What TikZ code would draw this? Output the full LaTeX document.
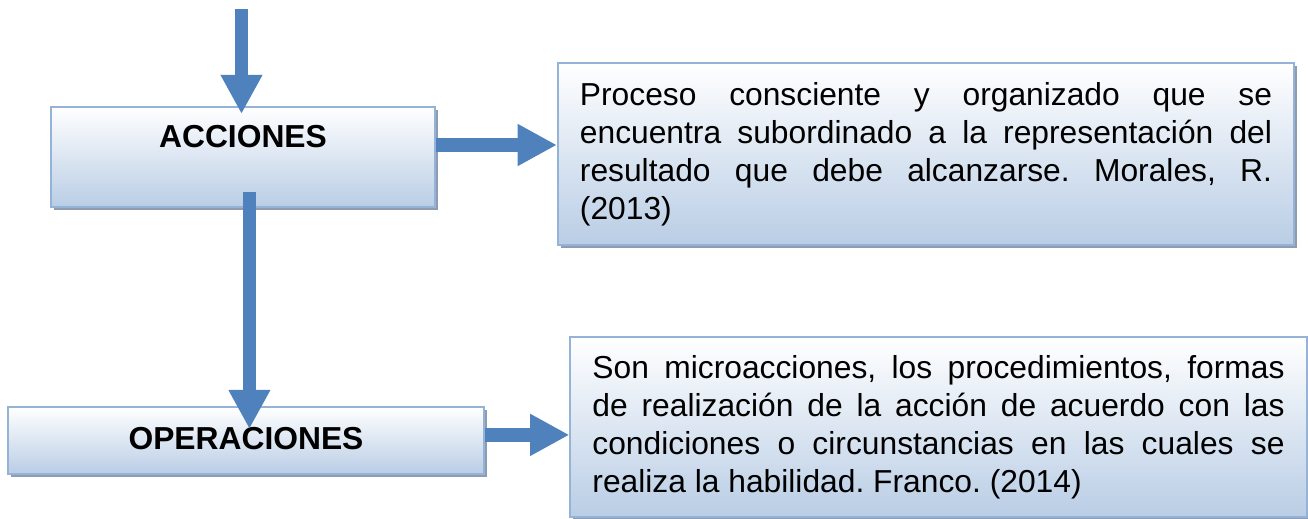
\documentclass[tikz,border=0pt]{standalone}
\usepackage{fontspec}
\setmainfont{Liberation Sans}
\usetikzlibrary{arrows.meta, shadows, calc}
\definecolor{flechaazul}{HTML}{4F81BD}
\definecolor{bordeazul}{HTML}{95B3D7}
\definecolor{fondoazul}{HTML}{B9CDE5}
\definecolor{sombra}{HTML}{8E9BB0}
\frenchspacing
\tikzset{
    >={Triangle[width=0.98cm, length=0.98cm]},
    caja/.style={draw=bordeazul, line width=0.05cm, top color=white, bottom color=fondoazul, inner sep=0pt,
        drop shadow={shadow xshift=0.075cm, shadow yshift=-0.075cm, fill=sombra, opacity=1}},
    titulo/.style={caja, font=\fontsize{22.6}{27}\selectfont\bfseries},
    texto/.style={caja, font=\fontsize{22.6}{27}\selectfont, align=justify, inner xsep=0.55cm, inner ysep=0pt},
    flecha/.style={->, flechaazul, line width=0.33cm},
}

\begin{document}
\begin{tikzpicture}[x=0.025cm, y=-0.025cm]
        \useasboundingbox (0,0) rectangle (1308,519);
        \node[titulo, minimum width=9.6cm, text height=1.025cm, text depth=1.475cm] (acciones) at (243,157) {ACCIONES};
        \node[titulo, minimum width=11.9cm, text height=1.05cm, text depth=0.625cm] (operaciones) at (246,440.5) {OPERACIONES};
        \node[texto, text width=17.3cm, minimum height=4.55cm] (proceso) at (926,154)
            {Proceso consciente y organizado que se\linebreak encuentra subordinado a la representación del\linebreak resultado que debe alcanzarse. Morales, R.\linebreak (2013)};
        \node[texto, text width=17.3cm, minimum height=4.5cm] (microacciones) at (938.5,427)
            {Son microacciones, los procedimientos, formas\linebreak de realización de la acción de acuerdo con las\linebreak condiciones o circunstancias en las cuales se\linebreak realiza la habilidad. Franco. (2014)};
        \coordinate (inicio) at (241.5,9);
        \draw[flecha, shorten >=-0.2cm] (inicio) -- (inicio |- acciones.north);
        \draw[flecha, shorten <=-0.4cm, shorten >=-0.575cm] ([xshift=0.16cm]acciones.south) -- ([xshift=0.16cm]acciones.south |- operaciones.north);
        \draw[flecha] ([yshift=0.3cm]acciones.east) -- ([yshift=0.3cm]acciones.east -| proceso.west);
        \draw[flecha] ([yshift=0.14cm]operaciones.east) -- ([yshift=0.14cm]operaciones.east -| microacciones.west);
\end{tikzpicture}
\end{document}
